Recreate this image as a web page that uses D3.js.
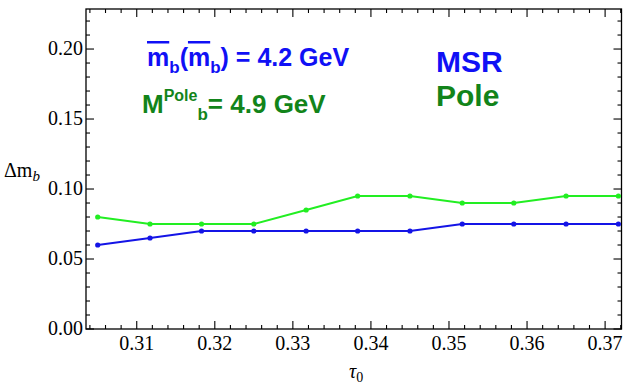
<!DOCTYPE html>
<html>
<head>
<meta charset="utf-8">
<script src="https://cdn.jsdelivr.net/npm/d3@7"></script>
<style>
  body { margin: 0; background: #fff; }
  svg { display: block; }
</style>
</head>
<body>
<svg id="chart" width="624" height="386"></svg>
<script>
// data
const tau0 = [0.305, 0.3117, 0.3183, 0.325, 0.3317, 0.3383, 0.345, 0.3517, 0.3583, 0.365, 0.3717];
const msrValues = [0.060, 0.065, 0.070, 0.070, 0.070, 0.070, 0.070, 0.075, 0.075, 0.075, 0.075];
const poleValues = [0.080, 0.075, 0.075, 0.075, 0.085, 0.095, 0.095, 0.090, 0.090, 0.095, 0.095];
const xTicks = [0.31, 0.32, 0.33, 0.34, 0.35, 0.36, 0.37];
const yTicks = [0.00, 0.05, 0.10, 0.15, 0.20];

const plotLeft = 86, plotRight = 621.5, plotTop = 9, plotBottom = 329;

const serif = '"Liberation Serif", "Times New Roman", serif';
const sans = '"Liberation Sans", Arial, Helvetica, sans-serif';

const svg = d3.select("#chart");

const x = d3.scaleLinear().domain([0.3035, 0.3721]).range([plotLeft, plotRight]);
const y = d3.scaleLinear().domain([0, 0.2286]).range([plotBottom, plotTop]);

// minor ticks
const xMinor = d3.range(0.304, 0.3721, 0.002).filter(v => Math.abs(v * 100 - Math.round(v * 100)) > 1e-6);
const yMinor = d3.range(0.01, 0.2286, 0.01).filter(v => Math.abs(v * 20 - Math.round(v * 20)) > 1e-6);

// frame
svg.append("rect")
  .attr("x", plotLeft).attr("y", plotTop)
  .attr("width", plotRight - plotLeft).attr("height", plotBottom - plotTop)
  .attr("fill", "none").attr("stroke", "#000").attr("stroke-width", 1.3);

const ticks = svg.append("g").attr("stroke", "#000").attr("stroke-width", 1.1);

// bottom and top ticks
xTicks.forEach(v => {
  ticks.append("line").attr("x1", x(v)).attr("x2", x(v)).attr("y1", plotBottom).attr("y2", plotBottom - 8);
  ticks.append("line").attr("x1", x(v)).attr("x2", x(v)).attr("y1", plotTop).attr("y2", plotTop + 8);
});
xMinor.forEach(v => {
  ticks.append("line").attr("x1", x(v)).attr("x2", x(v)).attr("y1", plotBottom).attr("y2", plotBottom - 4);
  ticks.append("line").attr("x1", x(v)).attr("x2", x(v)).attr("y1", plotTop).attr("y2", plotTop + 4);
});
// left and right ticks
yTicks.forEach(v => {
  ticks.append("line").attr("y1", y(v)).attr("y2", y(v)).attr("x1", plotLeft).attr("x2", plotLeft + 8);
  ticks.append("line").attr("y1", y(v)).attr("y2", y(v)).attr("x1", plotRight).attr("x2", plotRight - 8);
});
yMinor.forEach(v => {
  ticks.append("line").attr("y1", y(v)).attr("y2", y(v)).attr("x1", plotLeft).attr("x2", plotLeft + 4);
  ticks.append("line").attr("y1", y(v)).attr("y2", y(v)).attr("x1", plotRight).attr("x2", plotRight - 4);
});

// tick labels
svg.append("g").selectAll("text").data(xTicks).join("text")
  .attr("x", d => x(d)).attr("y", 350)
  .attr("text-anchor", "middle")
  .style("font-family", serif).style("font-size", "20px")
  .text(d => d.toFixed(2));

svg.append("g").selectAll("text").data(yTicks).join("text")
  .attr("x", plotLeft - 3).attr("y", d => y(d) + 6)
  .attr("text-anchor", "end")
  .style("font-family", serif).style("font-size", "20px")
  .text(d => d.toFixed(2));

// axis titles
const yl = svg.append("text").attr("x", 4).attr("y", 177)
  .style("font-family", serif).style("font-size", "20px");
yl.append("tspan").text("\u0394m");
yl.append("tspan").style("font-style", "italic").style("font-size", "15px").attr("dy", 4).text("b");

const xl = svg.append("text").attr("x", 349).attr("y", 378)
  .style("font-family", serif).style("font-size", "20px");
xl.append("tspan").style("font-style", "italic").text("\u03c4");
xl.append("tspan").style("font-size", "14px").attr("dy", 4).text("0");

// series
const series = [
  { values: poleValues, color: "#22ee22" },
  { values: msrValues, color: "#1414e6" }
];
const line = d3.line().x(d => x(d[0])).y(d => y(d[1]));

series.forEach(s => {
  const pts = tau0.map((t, i) => [t, s.values[i]]);
  svg.append("path").datum(pts)
    .attr("d", line)
    .attr("fill", "none").attr("stroke", s.color).attr("stroke-width", 2);
  svg.append("g").selectAll("circle").data(pts).join("circle")
    .attr("cx", d => x(d[0])).attr("cy", d => y(d[1])).attr("r", 2.6)
    .attr("fill", s.color);
});

// annotations
const blue = "#1010f5", green = "#12841a";

const a1 = svg.append("text").attr("x", 147).attr("y", 66)
  .style("font-family", sans).style("font-weight", "bold").style("font-size", "25px").attr("fill", blue);
a1.append("tspan").style("text-decoration", "overline").text("m");
a1.append("tspan").style("font-size", "17px").attr("dy", 7).text("b");
a1.append("tspan").attr("dy", -7).text("(");
a1.append("tspan").style("text-decoration", "overline").text("m");
a1.append("tspan").style("font-size", "17px").attr("dy", 7).text("b");
a1.append("tspan").attr("dy", -7).text(") = 4.2 GeV");

const a2 = svg.append("text").attr("x", 142).attr("y", 113)
  .style("font-family", sans).style("font-weight", "bold").style("font-size", "26px").attr("fill", green);
a2.append("tspan").text("M");
a2.append("tspan").style("font-size", "16px").attr("dy", -12).text("Pole");
a2.append("tspan").style("font-size", "17px").attr("dy", 19).text("b");
a2.append("tspan").attr("dy", -7).text("= 4.9 GeV");

svg.append("text").attr("x", 436).attr("y", 72)
  .style("font-family", sans).style("font-weight", "bold").style("font-size", "30px").attr("fill", blue)
  .text("MSR");
svg.append("text").attr("x", 436).attr("y", 106)
  .style("font-family", sans).style("font-weight", "bold").style("font-size", "30px").attr("fill", green)
  .text("Pole");
</script>
</body>
</html>
